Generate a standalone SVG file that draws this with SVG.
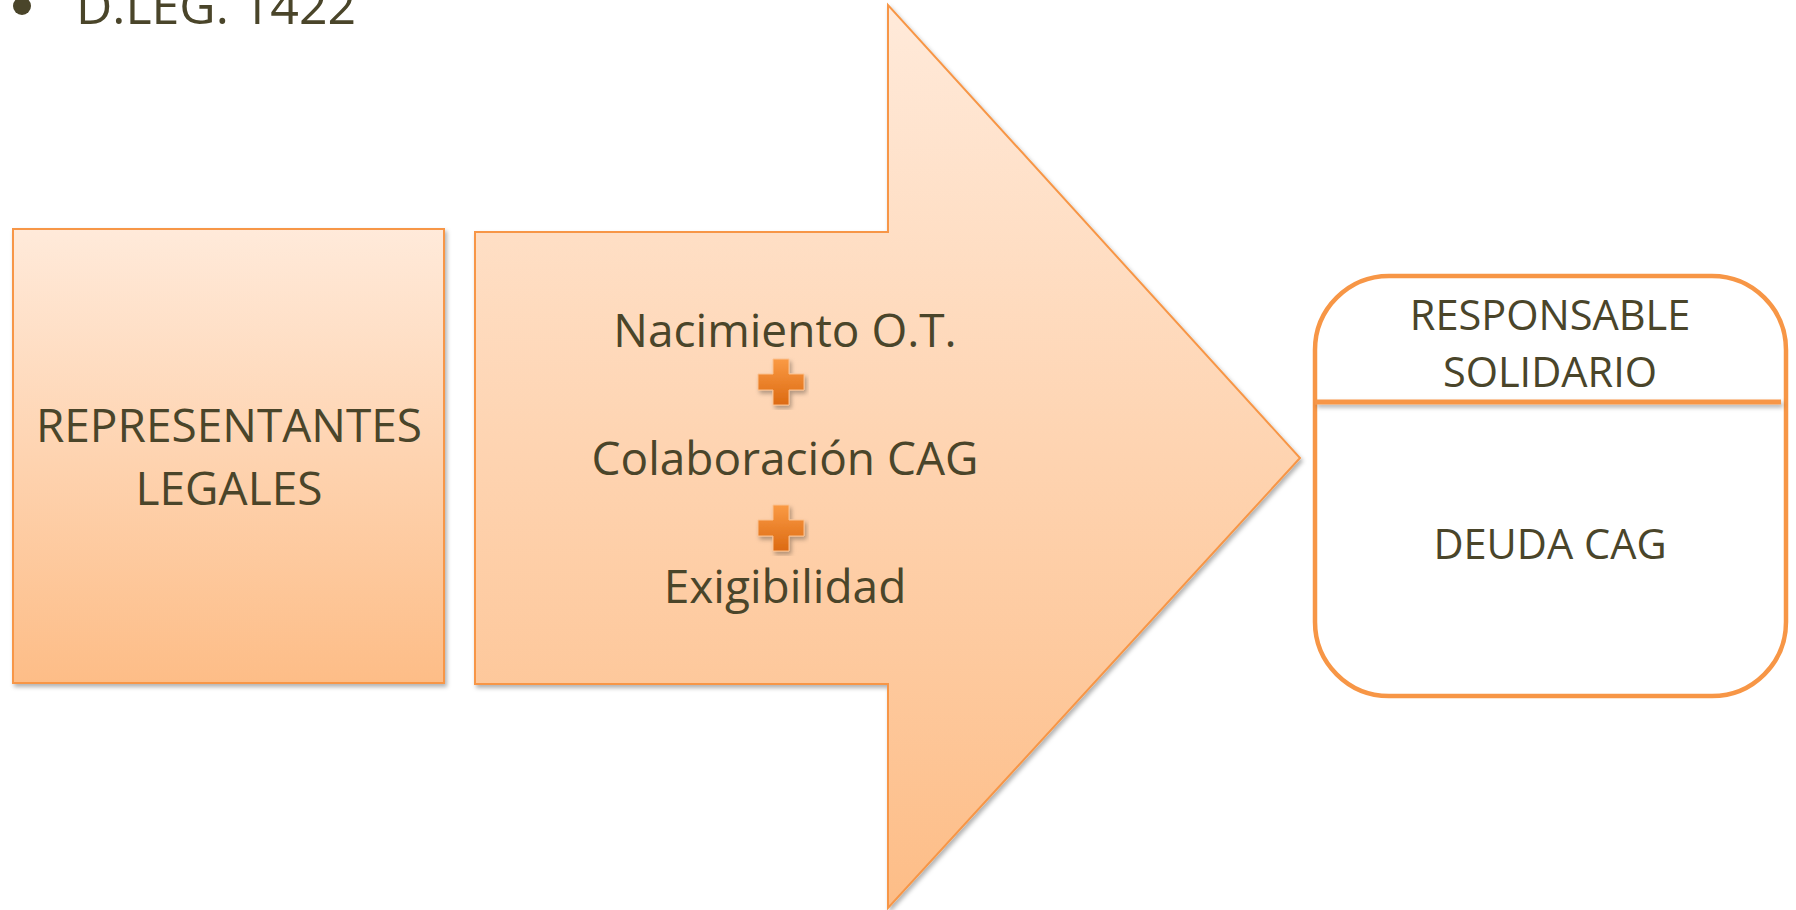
<svg xmlns="http://www.w3.org/2000/svg" width="1796" height="910" viewBox="0 0 1796 910">
<style>
.t{font-family:"Open Sans","Liberation Sans",sans-serif;font-size:46px;fill:#4A452A;text-anchor:middle}
.r{font-size:41.5px}
.shape{stroke:#F79646;stroke-width:2}
</style>
<defs>
<linearGradient id="gBox" x1="0" y1="0" x2="0" y2="1">
<stop offset="0" stop-color="#FFEADA"/><stop offset="1" stop-color="#FDBD87"/>
</linearGradient>
<linearGradient id="gPlus" x1="0" y1="0" x2="0" y2="1">
<stop offset="0" stop-color="#FA9A44"/><stop offset="1" stop-color="#DC6A12"/>
</linearGradient>
<filter id="sh" x="-5%" y="-5%" width="115%" height="115%">
<feDropShadow dx="2" dy="3" stdDeviation="2" flood-color="#000" flood-opacity="0.3"/>
</filter>
<filter id="shl" filterUnits="userSpaceOnUse" x="1300" y="390" width="500" height="30">
<feDropShadow dx="2" dy="3" stdDeviation="2" flood-color="#000" flood-opacity="0.3"/>
</filter>
</defs>
<g id="title">
<circle cx="22" cy="6" r="9" fill="#4A452A"/>
<text x="76" y="24" style="font-family:'Open Sans','Liberation Sans',sans-serif;font-size:50px;fill:#4A452A">D.LEG. 1422</text>
</g>
<g id="connectors"></g>
<g id="representantes">
<rect x="13" y="229" width="431" height="454" fill="url(#gBox)" class="shape" filter="url(#sh)"/>
<text class="t" x="229" y="442">REPRESENTANTES</text>
<text class="t" x="229" y="505">LEGALES</text>
</g>
<g id="arrow">
<polygon points="475,232 888,232 888,5 1300,458 888,908 888,684 475,684" fill="url(#gBox)" class="shape" filter="url(#sh)"/>
<text class="t" x="785" y="347">Nacimiento O.T.</text>
<text class="t" x="785" y="475">Colaboración CAG</text>
<text class="t" x="785" y="603">Exigibilidad</text>
<path d="M773,359 h16 v15 h15 v16 h-15 v15 h-16 v-15 h-15 v-16 h15 z" fill="url(#gPlus)" stroke="#FBC08E" stroke-width="1" filter="url(#sh)"/>
<path d="M773,505 h16 v15 h15 v16 h-15 v15 h-16 v-15 h-15 v-16 h15 z" fill="url(#gPlus)" stroke="#FBC08E" stroke-width="1" filter="url(#sh)"/>
</g>
<g id="responsable">
<rect x="1315" y="276" width="471" height="420" rx="74" ry="74" fill="#FFFFFF" stroke="#F79646" stroke-width="4.5"/>
<rect x="1315" y="399.5" width="466" height="5" fill="#F79646" filter="url(#shl)"/>
<text class="t r" x="1550" y="330">RESPONSABLE</text>
<text class="t r" x="1550" y="387">SOLIDARIO</text>
<text class="t r" x="1550" y="559">DEUDA CAG</text>
</g>
</svg>
